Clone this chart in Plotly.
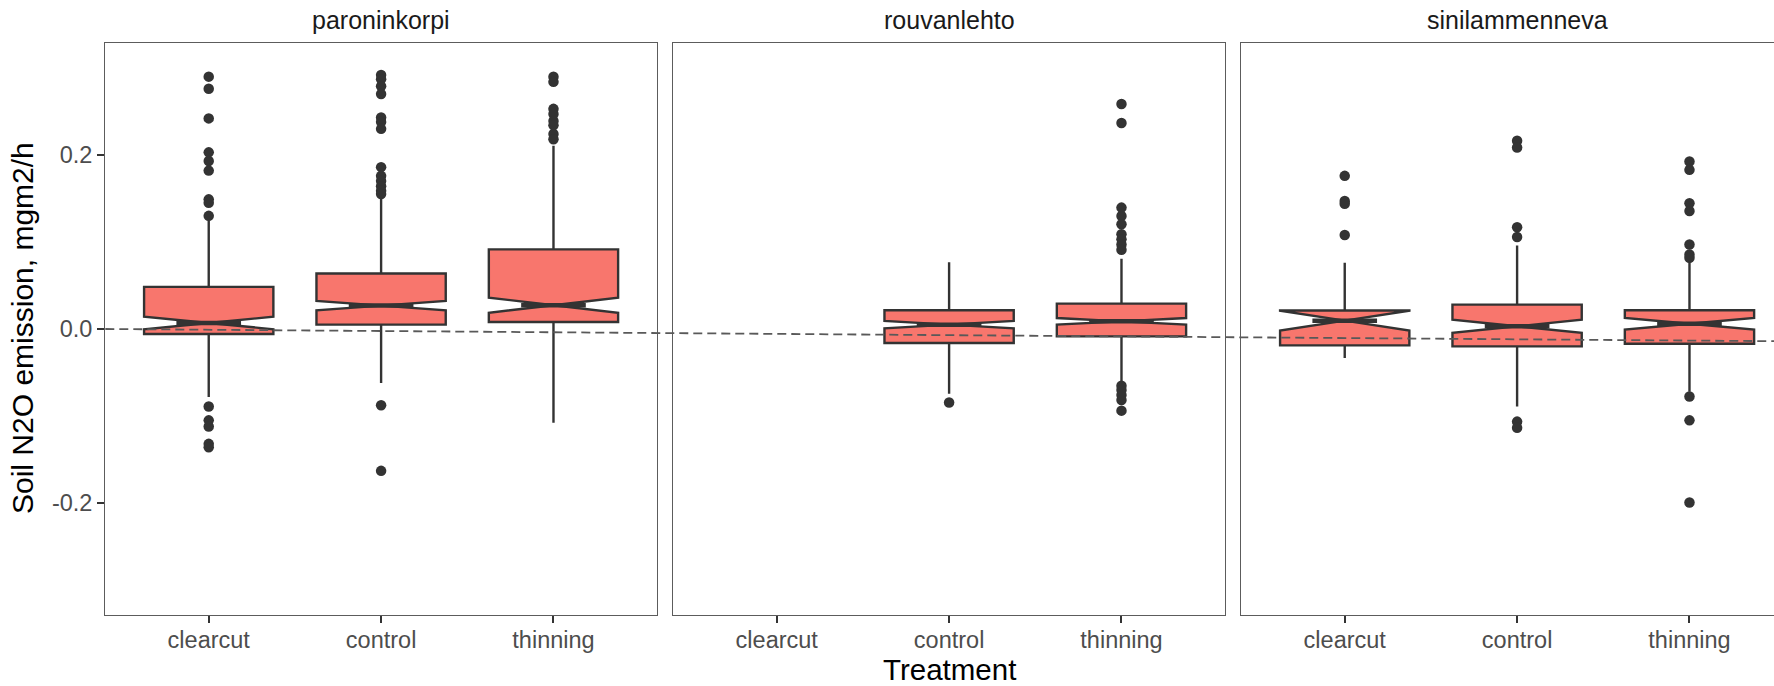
import plotly.graph_objects as go

# ---------------- data ----------------
treatments = ["clearcut", "control", "thinning"]
sites = ["paroninkorpi", "rouvanlehto", "sinilammenneva"]
tick_vals_y = [-0.2, 0.0, 0.2]
tick_text_y = ["-0.2", "0.0", "0.2"]

# box statistics per site (rows) and treatment (columns); None = no data
lower_fence = [[-0.078, -0.062, -0.1076],
               [None, -0.0745, -0.0622],
               [-0.0334, -0.0891, -0.072]]
q1_vals = [[-0.0058, 0.0050, 0.0081],
           [None, -0.0161, -0.0085],
           [-0.0188, -0.0200, -0.0169]]
median_vals = [[0.0069, 0.0269, 0.0273],
               [None, 0.0050, 0.0088],
               [0.0096, 0.0031, 0.0061]]
q3_vals = [[0.0484, 0.0638, 0.0915],
           [None, 0.0215, 0.0292],
           [0.0213, 0.0280, 0.0215]]
upper_fence = [[0.125, 0.150, 0.2106],
               [None, 0.0768, 0.0807],
               [0.076, 0.096, 0.0795]]
notch_span = [[0.0072, 0.0054, 0.0087],
              [None, 0.0042, 0.0038],
              [0.0115, 0.0076, 0.0067]]

outliers = [
    [[0.290, 0.276, 0.242, 0.203, 0.193, 0.182, 0.149, 0.145, 0.130,
      -0.089, -0.105, -0.112, -0.132, -0.136],
     [0.292, 0.287, 0.279, 0.270, 0.243, 0.238, 0.230, 0.186, 0.176,
      0.170, 0.164, 0.159, 0.155, -0.0876, -0.163],
     [0.290, 0.284, 0.253, 0.247, 0.239, 0.234, 0.224, 0.218]],
    [[],
     [-0.0845],
     [0.2586, 0.2367, 0.1395, 0.1299, 0.1203, 0.1088, 0.1030, 0.0972, 0.0910,
      -0.0653, -0.0700, -0.0757, -0.0815, -0.0938]],
    [[0.176, 0.147, 0.144, 0.108],
     [0.2163, 0.2086, 0.117, 0.1057, -0.1064, -0.1134],
     [0.1925, 0.1829, 0.1445, 0.1356, 0.0972, 0.0857, 0.0818,
      -0.0776, -0.105, -0.1994]],
]

# reference (dashed) line: value at the left edge and at the right edge
ref_line_y = [0.0, -0.014]

# ---------------- styling ----------------
W, H = 1774, 686
FONT = "Liberation Sans, Arial, Helvetica, sans-serif"
FILL = "#F8766D"
DARK = "#333333"
BORDER = "#5c5c5c"
BOX_W = 0.75
NOTCH_W = 0.5

panel_px = [(105.3, 656.9), (673.3, 1224.9), (1241.3, 1792.9)]
px_per_unit = (panel_px[0][1] - panel_px[0][0]) / 3.2
top_px, bot_px = 42.7, 615.3
y_range = [-0.329, 0.329]

fig = go.Figure()

for i, site in enumerate(sites):
    sfx = "" if i == 0 else str(i + 1)
    xa, ya = "x" + sfx, "y" + sfx
    pos = [j + 1 for j in range(3) if q1_vals[i][j] is not None]
    idx = [j for j in range(3) if q1_vals[i][j] is not None]
    fig.add_trace(go.Box(
        x=pos,
        q1=[q1_vals[i][j] for j in idx],
        median=[median_vals[i][j] for j in idx],
        q3=[q3_vals[i][j] for j in idx],
        lowerfence=[lower_fence[i][j] for j in idx],
        upperfence=[upper_fence[i][j] for j in idx],
        notchspan=[notch_span[i][j] for j in idx],
        notched=True, notchwidth=NOTCH_W, width=BOX_W, whiskerwidth=0,
        fillcolor=FILL, line=dict(color=DARK, width=2.4),
        boxpoints=False, hoverinfo="skip",
        xaxis=xa, yaxis=ya, showlegend=False,
    ))
    # thick median segments
    mx, my = [], []
    for j in idx:
        half = BOX_W * NOTCH_W / 2
        mx += [j + 1 - half, j + 1 + half, None]
        my += [median_vals[i][j], median_vals[i][j], None]
    fig.add_trace(go.Scatter(x=mx, y=my, mode="lines",
                             line=dict(color=DARK, width=4.5),
                             xaxis=xa, yaxis=ya, showlegend=False,
                             hoverinfo="skip"))
    # outliers
    ox, oy = [], []
    for j in range(3):
        for v in outliers[i][j]:
            ox.append(j + 1)
            oy.append(v)
    fig.add_trace(go.Scatter(x=ox, y=oy, mode="markers",
                             marker=dict(color=DARK, size=10.5, line=dict(width=0)),
                             xaxis=xa, yaxis=ya, showlegend=False,
                             hoverinfo="skip"))

layout = dict(
    width=W, height=H,
    margin=dict(l=0, r=0, t=0, b=0, pad=0),
    paper_bgcolor="white", plot_bgcolor="white",
    showlegend=False,
    font=dict(family=FONT),
)

y_dom = [1 - bot_px / H, 1 - top_px / H]
for i in range(3):
    sfx = "" if i == 0 else str(i + 1)
    x0p, x1p = panel_px[i]
    dom_end = min(x1p / W, 1.0)
    xr_end = 0.4 + (min(x1p, W) - x0p) / px_per_unit
    layout["xaxis" + sfx] = dict(
        domain=[x0p / W, dom_end], range=[0.4, xr_end],
        anchor="y" + sfx,
        tickmode="array", tickvals=[1, 2, 3], ticktext=treatments,
        ticks="outside", ticklen=7, tickwidth=1.8, tickcolor=DARK,
        ticklabelstandoff=-4,
        tickfont=dict(size=23.5, color="#4D4D4D", family=FONT),
        showgrid=False, zeroline=False,
        showline=True, mirror=True, linecolor=BORDER, linewidth=1.3,
        fixedrange=True,
    )
    ydict = dict(
        domain=y_dom, range=y_range, anchor="x" + sfx,
        showgrid=False, zeroline=False,
        showline=True, mirror=(i < 2), linecolor=BORDER, linewidth=1.3,
        fixedrange=True,
    )
    if i == 0:
        ydict.update(tickmode="array", tickvals=tick_vals_y, ticktext=tick_text_y,
                     ticks="outside", ticklen=7, tickwidth=1.8, tickcolor=DARK,
                     tickfont=dict(size=23.5, color="#4D4D4D", family=FONT))
    else:
        ydict.update(showticklabels=False, ticks="")
    layout["yaxis" + sfx] = ydict

annotations = []
for i, site in enumerate(sites):
    cx = (panel_px[i][0] + panel_px[i][1]) / 2 / W
    annotations.append(dict(text=site, x=cx, y=1 - 20 / H, xref="paper", yref="paper",
                            xanchor="center", yanchor="middle", showarrow=False,
                            font=dict(size=25, color="#1A1A1A", family=FONT)))
annotations.append(dict(text="Treatment",
                        x=(panel_px[0][0] + panel_px[2][1]) / 2 / W, y=1 - 669 / H,
                        xref="paper", yref="paper", xanchor="center", yanchor="middle",
                        showarrow=False, font=dict(size=29.5, color="black", family=FONT)))
annotations.append(dict(text="Soil N2O emission, mgm2/h",
                        x=23 / W, y=1 - 328 / H, xref="paper", yref="paper",
                        xanchor="center", yanchor="middle", textangle=-90,
                        showarrow=False, font=dict(size=30, color="black", family=FONT)))
layout["annotations"] = annotations

layout["shapes"] = [dict(type="line", xref="paper", yref="y",
                         x0=panel_px[0][0] / W, x1=1.0,
                         y0=ref_line_y[0], y1=ref_line_y[1],
                         line=dict(color="#595959", width=1.8, dash="9px,5px"),
                         layer="above")]

fig.update_layout(**layout)
fig.write_html("out.html", config={"displayModeBar": False})
